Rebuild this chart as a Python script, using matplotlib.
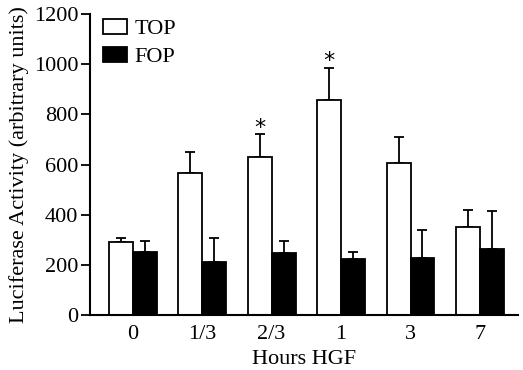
import matplotlib
matplotlib.use("Agg")
import matplotlib.pyplot as plt
import numpy as np

plt.rcParams['font.family'] = ['Liberation Serif', 'DejaVu Serif']

categories = ["0", "1/3", "2/3", "1", "3", "7"]
top_vals = [290, 565, 632, 856, 608, 353]
top_err = [19, 86, 90, 130, 101, 67]
fop_vals = [251, 213, 248, 225, 227, 265]
fop_err = [44, 96, 47, 27, 113, 150]
significant = [False, False, True, True, False, False]

fig = plt.figure(figsize=(5.23, 3.70), dpi=100)
ax = fig.add_axes([0.172, 0.148, 0.818, 0.814])

x = np.arange(len(categories))
w = 0.345
ax.bar(x - w/2, top_vals, w, color="white", edgecolor="black", linewidth=1.3, label="TOP", zorder=2)
ax.bar(x + w/2, fop_vals, w, color="black", edgecolor="black", linewidth=1.3, label="FOP", zorder=2)
ax.errorbar(x - w/2, top_vals, yerr=[np.zeros(len(x)), top_err], fmt="none", ecolor="black",
            elinewidth=1.3, capsize=3.3, capthick=1.3, zorder=1)
ax.errorbar(x + w/2, fop_vals, yerr=[np.zeros(len(x)), fop_err], fmt="none", ecolor="black",
            elinewidth=1.3, capsize=3.3, capthick=1.3, zorder=1)
for i, s in enumerate(significant):
    if s:
        ax.text(x[i] - w/2, top_vals[i] + top_err[i] + 2, "*", ha="center", va="baseline",
                fontsize=16, family="DejaVu Sans")

ax.set_xlim(-0.614, 5.544)
ax.set_ylim(0, 1200)
ax.set_yticks([0, 200, 400, 600, 800, 1000, 1200])
ax.set_xticks(x)
ax.set_xticklabels(categories)
ax.tick_params(axis="x", length=0, labelsize=16, pad=7)
ax.tick_params(axis="y", length=6.5, width=1.3, labelsize=16, direction="out", pad=2)
for sp in ["top", "right"]:
    ax.spines[sp].set_visible(False)
for sp in ["left", "bottom"]:
    ax.spines[sp].set_linewidth(1.5)
ax.set_xlabel("Hours HGF", fontsize=16, labelpad=4)
ax.set_ylabel("Luciferase Activity (arbitrary units)", fontsize=16, labelpad=3)

ax.legend(loc="upper left", frameon=False, fontsize=16, handlelength=1.08, handleheight=0.68,
          borderaxespad=0.0, borderpad=0.2, bbox_to_anchor=(0.02, 1.0), labelspacing=0.36,
          handletextpad=0.33)

fig.savefig("out.png", dpi=100)
